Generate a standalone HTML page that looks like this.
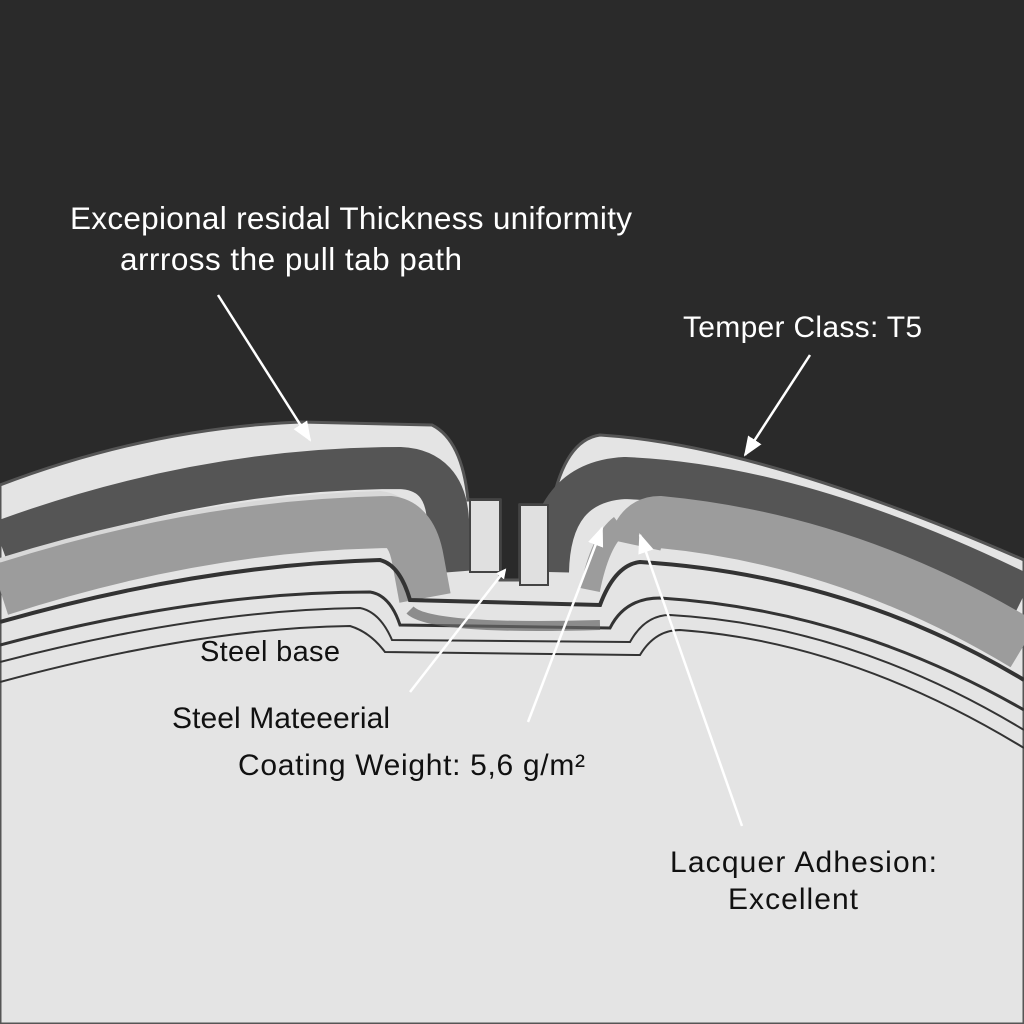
<!DOCTYPE html>
<html><head><style>
body{margin:0;background:#2a2a2a;}
svg{display:block}
text{font-family:"Liberation Sans",sans-serif;fill:#111;}
</style></head><body>
<svg width="1024" height="1024" viewBox="0 0 1024 1024">
<defs>
<marker id="ah" markerWidth="10" markerHeight="10" refX="8" refY="5" orient="auto" markerUnits="userSpaceOnUse" viewBox="0 0 10 10">
<path d="M0,0 L10,5 L0,10 z" fill="#fff"/></marker>
<marker id="ah2" markerWidth="20" markerHeight="20" refX="18" refY="10" orient="auto" markerUnits="userSpaceOnUse" viewBox="0 0 20 20">
<path d="M0,2 L20,10 L0,18 z" fill="#fff"/></marker>
</defs>
<rect width="1024" height="1024" fill="#2a2a2a"/>
<path d="M0,485 Q150,428 300,422 L432,425 Q462,440 468,500 L500,500 L500,580 L520,580 L520,505 L552,505 Q565,440 600,435 Q760,445 1024,560 L1024,1024 L0,1024 Z" fill="#e4e4e4" stroke="#555" stroke-width="3"/>
<path d="M0,542 Q200,468 400,468 Q445,470 448,520 L452,572" fill="none" stroke="#555" stroke-width="42"/>
<path d="M548,572 Q550,482 625,478 Q800,485 1024,595" fill="none" stroke="#555" stroke-width="42"/>
<path d="M0,562 Q200,500 380,495 Q410,498 415,530" fill="none" stroke="#d8d8d8" stroke-width="8"/>
<path d="M0,590 Q200,525 390,522 Q412,525 418,560 L425,598" fill="none" stroke="#9c9c9c" stroke-width="52"/>
<path d="M635,545 Q640,522 660,522 Q850,540 1024,645" fill="none" stroke="#9c9c9c" stroke-width="52"/>
<path d="M590,590 Q600,540 620,525" fill="none" stroke="#9c9c9c" stroke-width="20"/>
<path d="M0,622 Q200,565 380,560 Q400,565 410,600 L600,605 Q615,565 640,562 Q850,575 1024,680" fill="none" stroke="#333" stroke-width="4"/>
<path d="M0,645 Q200,592 370,592 Q390,595 400,625 L610,628 Q625,598 660,598 Q850,610 1024,710" fill="none" stroke="#333" stroke-width="3"/>
<path d="M0,662 Q200,610 360,608 Q380,612 392,640 L630,642 Q645,615 670,615 Q850,625 1024,730" fill="none" stroke="#333" stroke-width="2"/>
<path d="M0,682 Q200,628 350,626 Q370,632 385,652 L640,655 Q655,630 680,630 Q850,642 1024,748" fill="none" stroke="#333" stroke-width="2"/>
<path d="M410,610 Q430,630 600,625" fill="none" stroke="#666" stroke-width="10" opacity="0.7"/>
<rect x="470" y="500" width="30" height="72" fill="#e0e0e0" stroke="#444" stroke-width="2"/>
<rect x="520" y="505" width="28" height="80" fill="#e0e0e0" stroke="#444" stroke-width="2"/>
<g stroke="#fff" stroke-width="2.5" fill="none">
<line x1="218" y1="295" x2="310" y2="440" marker-end="url(#ah2)"/>
<line x1="810" y1="355" x2="745" y2="455" marker-end="url(#ah2)"/>
<line x1="410" y1="692" x2="505" y2="570" marker-end="url(#ah)"/>
<line x1="528" y1="722" x2="602" y2="528" marker-end="url(#ah2)"/>
<line x1="742" y1="826" x2="640" y2="535" marker-end="url(#ah2)"/>
</g>
<text x="70" y="229" font-size="31.5" style="fill:#fff" textLength="562">Excepional residal Thickness uniformity</text>
<text x="120" y="270" font-size="31.5" style="fill:#fff" textLength="342">arrross the pull tab path</text>
<text x="683" y="337" font-size="30" style="fill:#fff" textLength="239">Temper Class: T5</text>
<text x="200" y="661" font-size="29" textLength="140">Steel base</text>
<text x="172" y="728" font-size="30" textLength="218">Steel Mateeerial</text>
<text x="238" y="775" font-size="30" textLength="347">Coating Weight: 5,6 g/m²</text>
<text x="670" y="872" font-size="30" textLength="267">Lacquer Adhesion:</text>
<text x="728" y="909" font-size="30" textLength="130">Excellent</text>
</svg>
</body></html>
